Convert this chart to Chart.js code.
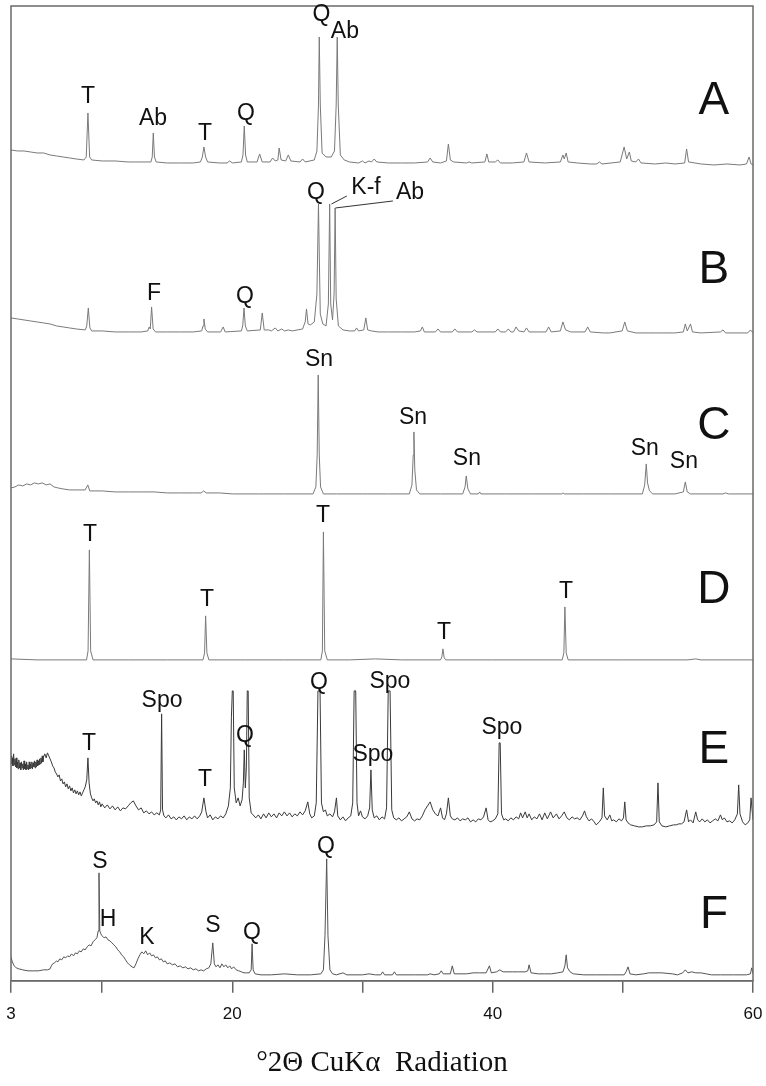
<!DOCTYPE html>
<html>
<head>
<meta charset="utf-8">
<script src="https://cdn.jsdelivr.net/npm/chart.js@4.4.1/dist/chart.umd.min.js"></script>
<style>
  html, body { margin: 0; padding: 0; background: #fff; }
  #wrap { position: relative; width: 766px; height: 1086px; }
</style>
</head>
<body>
<div id="wrap"><canvas id="c"></canvas></div>
<script>
// ---- x axis ticks (°2θ) ----
const tickValues = [3, 10, 20, 30, 40, 50, 60];
const tickLabels = ['3', '', '20', '', '40', '', '60'];

// ---- panel names ----
const panelNames = ['A', 'B', 'C', 'D', 'E', 'F'];

// ---- diffraction patterns: [2θ, intensity above baseline] ----
const patternA = [[3.0,15],[3.5,14],[4.0,14],[4.5,13],[5.0,12],[5.5,12],[6.0,10],[6.5,9],[7.0,8],[7.5,7],[8.0,6],[8.6,5],[8.78,8],[8.91,52],[9.04,8],[9.2,5],[10,4],[11,4],[12,3],[13,3],[13.75,3],[13.85,8],[13.93,32],[14.02,8],[14.15,3],[15,2],[16,2],[17,2],[17.55,3],[17.7,8],[17.82,18],[17.95,8],[18.1,3],[19,2],[19.6,2],[19.8,4],[20.0,2],[20.7,3],[20.82,10],[20.92,39],[21.02,10],[21.15,3],[21.9,3],[22.1,11],[22.3,3],[22.9,3],[23.1,7],[23.3,4],[23.5,5],[23.6,17],[23.75,5],[24.1,4],[24.3,10],[24.5,4],[25.2,3],[25.4,6],[25.6,3],[26.3,5],[26.5,14],[26.62,60],[26.68,128],[26.76,60],[26.9,12],[27.2,8],[27.6,8],[27.85,14],[27.98,60],[28.06,128],[28.14,60],[28.3,10],[28.6,5],[29.0,3],[29.7,2],[30.0,4],[30.2,2],[30.5,4],[30.7,3],[30.9,6],[31.1,3],[32,2],[33,2],[34,2],[35.0,3],[35.2,7],[35.4,3],[36.0,2],[36.45,4],[36.6,21],[36.75,5],[37.0,3],[38.0,2],[38.2,3],[38.4,2],[39.4,3],[39.56,11],[39.7,3],[40.2,3],[40.4,5],[40.6,2],[41.5,2],[42.4,3],[42.6,12],[42.8,3],[44,2],[45.2,3],[45.4,10],[45.5,6],[45.65,12],[45.8,3],[46.5,2],[47.5,1],[48.0,1],[48.2,3],[48.4,1],[49.8,3],[50.1,18],[50.3,6],[50.5,13],[50.65,4],[51.0,3],[51.2,6],[51.4,2],[52.5,1],[53.3,2],[54.0,1],[54.75,2],[54.9,16],[55.05,3],[56,1],[57,0],[58,1],[59,0],[59.5,1],[59.7,8],[59.85,1],[60,0]];

const patternB = [[3.0,16],[3.5,15],[4.0,14],[4.5,13],[5.0,12],[5.5,11],[6.0,10],[6.5,8],[7.0,7],[7.5,6],[8.0,5],[8.7,4],[8.82,8],[8.94,26],[9.06,6],[9.2,3],[10,3],[11,2],[12,2],[13,2],[13.5,3],[13.62,7],[13.7,5],[13.8,27],[13.92,5],[14.1,2],[15,2],[16,2],[17,2],[17.65,3],[17.75,8],[17.82,15],[17.92,5],[18.1,2],[19.1,2],[19.3,7],[19.45,2],[20.7,3],[20.8,8],[20.9,26],[21.0,8],[21.15,3],[22.15,4],[22.3,21],[22.45,4],[22.8,4],[23.0,3],[23.3,6],[23.5,3],[23.8,5],[24.0,3],[24.3,4],[24.6,3],[25.4,5],[25.6,12],[25.7,25],[25.82,10],[26.0,9],[26.3,12],[26.5,40],[26.62,130],[26.68,80],[26.76,20],[26.95,10],[27.2,8],[27.38,30],[27.48,130],[27.56,30],[27.7,14],[27.82,40],[27.9,126],[27.98,35],[28.15,8],[28.5,4],[29.0,3],[29.4,3],[29.55,6],[29.7,3],[30.1,4],[30.26,16],[30.4,4],[30.7,3],[31.2,2],[32,2],[33,2],[34,2],[34.45,3],[34.6,7],[34.75,2],[35.6,2],[35.8,5],[36.0,2],[36.9,2],[37.1,5],[37.3,2],[38.4,2],[38.6,4],[38.8,2],[39.5,2],[40.2,2],[40.4,5],[40.6,2],[41.0,2],[41.2,5],[41.4,2],[41.6,2],[41.8,7],[42.0,3],[42.4,2],[42.6,6],[42.8,2],[43.5,2],[44.1,2],[44.3,7],[44.5,2],[45.2,3],[45.4,12],[45.6,4],[46.0,2],[47.1,2],[47.3,7],[47.5,2],[48.5,1],[49.0,1],[49.95,3],[50.15,12],[50.35,3],[51,1],[52,1],[53,1],[54,1],[54.65,2],[54.8,10],[54.95,3],[55.2,10],[55.35,2],[56,1],[57.5,2],[57.7,4],[57.9,1],[59,1],[59.6,1],[59.8,4],[60,1]];

const patternC = [[3.0,7],[3.3,8],[3.6,10],[3.9,9],[4.2,11],[4.5,10],[4.8,12],[5.1,11],[5.4,12],[5.7,10],[6.0,11],[6.3,8],[6.6,7],[7.0,6],[7.5,5],[8.0,5],[8.7,5],[8.9,10],[9.05,4],[10,4],[11,3],[12,3],[13,3],[14,3],[15,2],[16,2],[17,2],[17.6,2],[17.8,4],[18.0,2],[19,2],[20,1],[22,1],[24,1],[26.2,1],[26.42,8],[26.52,40],[26.6,120],[26.68,40],[26.78,8],[27.0,1],[28,1],[30,1],[32,1],[33.6,1],[33.8,10],[33.9,40],[33.95,63],[34.02,25],[34.15,5],[34.4,1],[36,1],[37.7,1],[37.88,8],[37.97,19],[38.1,6],[38.3,1],[38.9,1],[39.0,3],[39.1,1],[41,1],[43,1],[45.3,1],[45.4,2],[45.5,1],[47,1],[49,1],[51.5,1],[51.68,10],[51.8,31],[51.9,12],[52.05,4],[52.3,1],[54.0,1],[54.65,3],[54.8,13],[54.95,3],[55.2,1],[57.7,1],[57.9,2],[58.1,1],[60,1]];

const patternD = [[3.0,2],[5,1],[8,1],[8.8,1],[8.92,10],[9.02,111],[9.12,10],[9.3,1],[12,1],[15,1],[17.75,1],[17.87,8],[17.95,45],[18.05,8],[18.2,1],[21,1],[24,1],[26.8,1],[26.92,10],[27.0,129],[27.1,10],[27.3,1],[29,1],[31,2],[33,1],[36.0,1],[36.1,4],[36.18,12],[36.28,3],[36.4,1],[40,1],[45.35,1],[45.47,8],[45.55,54],[45.65,8],[45.8,1],[50,1],[55,1],[55.6,2],[56,1],[60,1]];

const patternE = [[3.0,72],[3.05,64],[3.1,70],[3.15,62],[3.2,74],[3.25,63],[3.3,69],[3.35,61],[3.4,70],[3.45,60],[3.5,66],[3.55,59],[3.6,68],[3.65,60],[3.7,65],[3.75,58],[3.8,66],[3.85,60],[3.9,64],[3.95,58],[4.0,67],[4.05,59],[4.1,64],[4.15,58],[4.2,66],[4.25,59],[4.3,63],[4.35,58],[4.4,66],[4.45,59],[4.5,64],[4.55,60],[4.6,66],[4.65,59],[4.7,65],[4.75,61],[4.8,67],[4.85,60],[4.9,66],[4.95,61],[5.0,68],[5.05,62],[5.1,67],[5.15,63],[5.2,69],[5.25,64],[5.3,70],[5.35,65],[5.4,72],[5.45,66],[5.5,71],[5.6,74],[5.7,70],[5.8,75],[5.9,72],[6.0,69],[6.1,66],[6.2,62],[6.3,60],[6.4,56],[6.5,54],[6.6,51],[6.7,53],[6.8,47],[6.9,49],[7.0,44],[7.1,46],[7.2,41],[7.3,44],[7.4,39],[7.5,42],[7.6,37],[7.7,40],[7.8,35],[7.9,38],[8.0,34],[8.1,37],[8.2,33],[8.3,36],[8.4,32],[8.5,35],[8.6,38],[8.7,41],[8.82,48],[8.91,70],[9.0,45],[9.1,34],[9.2,30],[9.3,27],[9.4,29],[9.5,25],[9.6,27],[9.7,23],[9.8,26],[9.9,21],[10.0,24],[10.2,20],[10.4,23],[10.6,19],[10.8,22],[11.0,18],[11.2,21],[11.4,17],[11.6,20],[11.8,19],[12.0,22],[12.2,25],[12.4,27],[12.6,22],[12.8,18],[13.0,20],[13.2,15],[13.4,17],[13.6,14],[13.8,16],[14.0,13],[14.2,15],[14.4,13],[14.5,18],[14.57,114],[14.64,18],[14.75,12],[14.9,10],[15.1,13],[15.3,9],[15.5,11],[15.7,8],[15.9,11],[16.1,9],[16.3,12],[16.5,8],[16.7,11],[16.9,9],[17.1,12],[17.3,9],[17.5,12],[17.65,16],[17.82,30],[17.98,16],[18.1,10],[18.3,13],[18.5,8],[18.7,11],[18.9,9],[19.1,12],[19.3,10],[19.5,14],[19.7,22],[19.85,40],[19.93,110],[20.0,137],[20.07,137],[20.15,40],[20.3,25],[20.45,30],[20.6,22],[20.75,28],[20.85,45],[20.92,78],[21.0,40],[21.08,60],[21.15,137],[21.22,137],[21.3,30],[21.45,15],[21.6,13],[21.8,10],[22.0,13],[22.2,9],[22.4,14],[22.6,10],[22.8,15],[23.0,11],[23.2,14],[23.4,10],[23.6,15],[23.8,12],[24.0,16],[24.2,12],[24.4,15],[24.6,11],[24.8,14],[25.0,12],[25.2,16],[25.4,13],[25.6,17],[25.8,26],[25.95,14],[26.1,10],[26.3,12],[26.45,25],[26.58,137],[26.74,137],[26.85,25],[27.0,16],[27.15,18],[27.3,12],[27.5,14],[27.7,11],[27.85,16],[28.0,30],[28.1,12],[28.3,8],[28.5,11],[28.7,7],[28.9,10],[29.1,12],[29.25,25],[29.36,137],[29.48,137],[29.58,25],[29.7,12],[29.85,17],[30.0,11],[30.2,9],[30.4,12],[30.55,20],[30.65,58],[30.75,18],[30.9,10],[31.1,12],[31.3,8],[31.5,11],[31.7,9],[31.85,20],[31.98,137],[32.12,137],[32.25,18],[32.4,10],[32.6,8],[32.8,10],[33.0,7],[33.2,9],[33.4,11],[33.6,16],[33.8,9],[34.0,7],[34.2,9],[34.4,8],[34.6,12],[34.8,18],[35.0,22],[35.2,26],[35.4,18],[35.6,14],[35.8,12],[36.0,20],[36.15,10],[36.3,8],[36.45,14],[36.6,30],[36.75,12],[36.9,9],[37.1,8],[37.3,10],[37.5,7],[37.7,9],[37.9,8],[38.1,10],[38.3,6],[38.5,8],[38.7,6],[38.9,9],[39.1,8],[39.3,11],[39.5,20],[39.65,8],[39.8,6],[40.0,7],[40.2,9],[40.4,14],[40.5,85],[40.58,85],[40.68,14],[40.85,8],[41.0,9],[41.2,7],[41.4,10],[41.6,8],[41.8,11],[42.0,9],[42.15,15],[42.3,10],[42.5,16],[42.65,10],[42.8,14],[43.0,8],[43.2,11],[43.4,9],[43.6,14],[43.8,8],[44.0,15],[44.2,9],[44.45,16],[44.65,10],[44.9,14],[45.1,9],[45.3,12],[45.5,16],[45.7,10],[45.9,8],[46.1,11],[46.3,9],[46.5,10],[46.7,8],[46.9,12],[47.06,17],[47.2,11],[47.4,7],[47.6,9],[47.8,6],[47.95,3],[48.2,6],[48.4,10],[48.5,40],[48.6,12],[48.8,8],[49.0,13],[49.15,7],[49.3,8],[49.5,6],[49.7,9],[49.9,7],[50.05,10],[50.15,26],[50.25,8],[50.4,5],[50.6,3],[50.9,2],[51.2,1],[51.5,1],[51.8,2],[52.1,2],[52.4,3],[52.6,6],[52.7,45],[52.8,6],[53.0,2],[53.3,1],[53.6,2],[53.9,3],[54.1,3],[54.3,4],[54.5,4],[54.7,6],[54.9,18],[55.05,6],[55.2,8],[55.4,5],[55.6,16],[55.75,8],[55.9,6],[56.1,9],[56.3,6],[56.5,8],[56.7,5],[56.9,7],[57.1,9],[57.3,7],[57.5,13],[57.65,8],[57.8,10],[58.0,6],[58.2,7],[58.4,5],[58.6,8],[58.8,14],[58.9,43],[59.0,14],[59.2,6],[59.4,3],[59.6,5],[59.75,8],[59.85,30],[60,8]];

const patternF = [[3.0,19],[3.1,14],[3.25,10],[3.4,8],[3.6,7],[3.9,6],[4.3,5],[4.7,5],[5.1,5],[5.5,6],[5.8,6],[6.0,7],[6.1,10],[6.2,12],[6.35,13],[6.5,15],[6.6,14],[6.75,17],[6.9,16],[7.05,19],[7.2,18],[7.35,20],[7.5,19],[7.65,22],[7.8,20],[7.95,23],[8.1,22],[8.25,25],[8.4,24],[8.55,27],[8.7,26],[8.85,29],[9.0,31],[9.15,30],[9.3,34],[9.45,36],[9.6,38],[9.7,45],[9.76,103],[9.82,45],[9.9,42],[10.0,40],[10.15,38],[10.3,39],[10.45,36],[10.6,35],[10.75,33],[10.9,31],[11.05,29],[11.2,26],[11.35,24],[11.5,21],[11.65,19],[11.8,16],[11.95,13],[12.1,11],[12.3,9],[12.45,8],[12.6,12],[12.75,17],[12.9,21],[13.05,24],[13.2,22],[13.35,25],[13.5,21],[13.65,23],[13.8,20],[13.95,21],[14.1,18],[14.25,19],[14.4,16],[14.55,17],[14.7,14],[14.85,15],[15.0,12],[15.2,13],[15.4,11],[15.6,12],[15.8,9],[16.0,10],[16.2,8],[16.4,9],[16.6,7],[16.8,8],[17.0,6],[17.2,7],[17.4,5],[17.6,6],[17.8,5],[18.0,7],[18.2,8],[18.35,12],[18.5,33],[18.62,12],[18.75,9],[18.9,11],[19.05,8],[19.2,12],[19.35,9],[19.5,11],[19.65,8],[19.8,10],[19.95,7],[20.1,9],[20.3,6],[20.5,5],[20.7,4],[20.9,3],[21.1,3],[21.3,3],[21.45,6],[21.52,32],[21.6,6],[21.75,2],[22.2,1],[23,1],[24,2],[25,1],[26,1],[26.8,2],[27.0,6],[27.12,40],[27.25,117],[27.35,40],[27.5,6],[27.7,2],[28.0,1],[28.5,3],[28.8,1],[30.0,1],[30.5,2],[31.0,1],[31.4,1],[31.55,4],[31.7,1],[32.3,1],[32.45,4],[32.6,1],[34,1],[35.0,1],[35.2,2],[35.5,1],[35.9,2],[36.05,5],[36.2,2],[36.75,2],[36.9,10],[37.05,2],[38.0,2],[38.5,3],[39.0,3],[39.5,3],[39.75,10],[39.9,3],[40.3,4],[40.55,6],[40.8,4],[41.5,4],[42.0,4],[42.5,4],[42.7,5],[42.8,11],[42.95,3],[43.5,2],[44.0,2],[44.5,2],[45.0,3],[45.4,4],[45.55,10],[45.65,21],[45.75,8],[45.95,4],[46.2,2],[47,1],[48,1],[49,1],[50.1,1],[50.25,4],[50.4,9],[50.55,2],[51,1],[51.6,2],[52,3],[53,3],[53.8,2],[54.2,1],[54.6,3],[54.8,6],[55.0,3],[55.3,4],[55.6,3],[56.0,3],[56.4,2],[56.8,1],[57.5,1],[58.5,1],[59.5,1],[59.8,2],[59.9,8],[60,2]];

// ---- phase labels: [text, 2θ, intensity] ----
const labelsA = [['T',8.91,68],['Ab',13.91,46],['T',17.9,31],['Q',21.05,51],['Q',26.85,150],['Ab',28.65,133]];
const labelsB = [['F',13.98,40],['Q',20.97,37],['Q',26.43,141],['K-f',30.27,146],['Ab',33.65,141]];
const labelsC = [['Sn',26.66,135],['Sn',33.88,77],['Sn',38.02,36],['Sn',51.69,46],['Sn',54.69,33]];
const labelsD = [['T',9.07,126],['T',18.05,61],['T',26.96,145],['T',36.26,28],['T',45.63,69]];
const labelsE = [['T',8.99,84],['Spo',14.6,127],['T',17.9,48],['Q',20.97,92],['Q',26.66,145],['Spo',32.11,146],['Spo',30.8,73],['Spo',40.71,100]];
const labelsF = [['S',9.84,114],['H',10.45,56],['K',13.45,38],['S',18.51,50],['Q',21.51,43],['Q',27.19,129]];

// leader lines in panel B: [[2θ1, I1], [2θ2, I2]]
const leadersB = [[[28.8,138],[27.62,130]], [[32.34,133],[27.92,126]]];

// panel letter anchor [2θ, intensity]
const panelLetterPos = [[57.0,64],[57.0,64],[57.0,69],[57.0,71],[57.0,78],[57.0,61]];

// ---------------- styling / layout ----------------
const patterns = [patternA, patternB, patternC, patternD, patternE, patternF];
const peakLabels = [labelsA, labelsB, labelsC, labelsD, labelsE, labelsF];
const lineColors = ['#7a7a7a', '#7a7a7a', '#7a7a7a', '#7a7a7a', '#3a3a3a', '#555555'];
const AREA_TOP = 6, AREA_BOTTOM = 981;
const baselinePx = [165, 334, 495, 661, 828, 976];
const SANS = "'Liberation Sans', Arial, Helvetica, sans-serif";

const scales = {
  x: {
    type: 'linear', min: 3, max: 60,
    afterBuildTicks: (s) => { s.ticks = tickValues.map(v => ({ value: v })); },
    ticks: {
      autoSkip: false, maxRotation: 0, padding: 0, color: '#111',
      font: { family: SANS, size: 17, lineHeight: 2.55 },
      callback: (v) => { const i = tickValues.indexOf(v); return i >= 0 ? tickLabels[i] : ''; }
    },
    grid: { display: true, drawOnChartArea: false, drawTicks: true, tickLength: 12, color: '#666', lineWidth: 1.5 },
    border: { display: true, color: '#666', width: 1.5 },
    title: {
      display: true, text: '°2Θ CuKα  Radiation', color: '#111',
      font: { family: "'Liberation Serif', 'Times New Roman', serif", size: 29 },
      padding: { top: 10, bottom: 5 }
    }
  }
};
const datasets = [];
patterns.forEach((p, i) => {
  const id = 'y' + i;
  const h = AREA_BOTTOM - AREA_TOP;
  const min = -(AREA_BOTTOM - baselinePx[i]);
  scales[id] = { type: 'linear', display: false, min: min, max: min + h };
  datasets.push({
    label: panelNames[i], data: p, yAxisID: id, xAxisID: 'x',
    borderColor: lineColors[i], borderWidth: 1, pointRadius: 0, fill: false, tension: 0
  });
});

const annot = {
  id: 'annot',
  afterDraw(chart) {
    const ctx = chart.ctx, x = chart.scales.x, a = chart.chartArea;
    ctx.save();
    // frame
    ctx.strokeStyle = '#6a6a6a'; ctx.lineWidth = 1.5;
    ctx.strokeRect(a.left, a.top, a.right - a.left, a.bottom - a.top);
    // peak labels
    ctx.fillStyle = '#111'; ctx.textAlign = 'center'; ctx.textBaseline = 'middle';
    ctx.font = '23px ' + SANS;
    peakLabels.forEach((list, i) => {
      const y = chart.scales['y' + i];
      list.forEach(([t, tx, v]) => ctx.fillText(t, x.getPixelForValue(tx), y.getPixelForValue(v)));
    });
    // leader lines (panel B)
    ctx.strokeStyle = '#333'; ctx.lineWidth = 1;
    const yB = chart.scales.y1;
    leadersB.forEach(([p1, p2]) => {
      ctx.beginPath();
      ctx.moveTo(x.getPixelForValue(p1[0]), yB.getPixelForValue(p1[1]));
      ctx.lineTo(x.getPixelForValue(p2[0]), yB.getPixelForValue(p2[1]));
      ctx.stroke();
    });
    // panel letters
    ctx.font = '46px ' + SANS;
    panelNames.forEach((n, i) => {
      const y = chart.scales['y' + i];
      ctx.fillText(n, x.getPixelForValue(panelLetterPos[i][0]), y.getPixelForValue(panelLetterPos[i][1]));
    });
    ctx.restore();
  }
};

new Chart(document.getElementById('c'), {
  type: 'line',
  data: { datasets },
  options: {
    responsive: true, maintainAspectRatio: false, animation: false,
    layout: { padding: { left: 11, right: 13, top: 6, bottom: 0 } },
    plugins: { legend: { display: false }, tooltip: { enabled: false } },
    scales
  },
  plugins: [annot]
});
</script>
</body>
</html>
